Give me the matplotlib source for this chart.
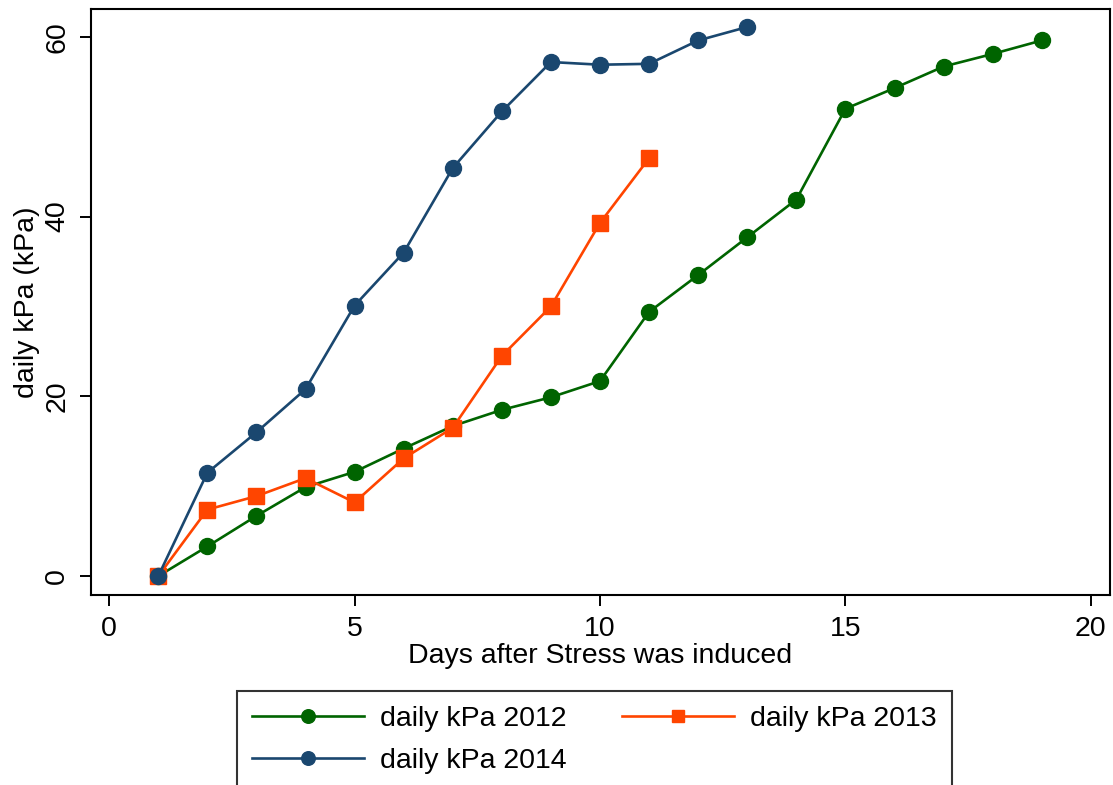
import matplotlib.pyplot as plt

plt.rcParams['font.family'] = ['Liberation Sans', 'DejaVu Sans']

# days after stress was induced
days_2012 = list(range(1, 20))
days_2013 = list(range(1, 12))
days_2014 = list(range(1, 14))

# daily kPa readings per year
kpa_2012 = [0, 3.3, 6.7, 9.9, 11.6, 14.2, 16.7, 18.5, 19.9, 21.7,
            29.4, 33.5, 37.7, 41.9, 52.0, 54.3, 56.7, 58.1, 59.6]
kpa_2013 = [0, 7.4, 8.9, 10.9, 8.2, 13.1, 16.5, 24.5, 30.0, 39.3, 46.5]
kpa_2014 = [0, 11.5, 16.0, 20.8, 30.1, 36.0, 45.4, 51.7, 57.2, 56.9,
            57.0, 59.6, 61.1]

x_ticks = [0, 5, 10, 15, 20]
y_ticks = [0, 20, 40, 60]

green = '#006400'
orange = '#ff4500'
navy = '#1a476f'
fs = 20.5

fig = plt.figure(figsize=(11.13, 7.85), dpi=100)
ax = fig.add_axes([91 / 1113, 1 - 595 / 785, (1110 - 91) / 1113, (595 - 9) / 785])

l12, = ax.plot(days_2012, kpa_2012, color=green, lw=1.9, marker='o', ms=11.5,
               label='daily kPa 2012')
l13, = ax.plot(days_2013, kpa_2013, color=orange, lw=1.9, marker='s', ms=11,
               label='daily kPa 2013')
l14, = ax.plot(days_2014, kpa_2014, color=navy, lw=1.9, marker='o', ms=11.5,
               label='daily kPa 2014')

ax.set_xlim(-0.37, 20.39)
ax.set_ylim(-2.1, 63.1)
ax.set_xticks(x_ticks)
ax.set_yticks(y_ticks)
ax.tick_params(axis='both', direction='out', length=8, width=1.4,
               labelsize=fs, pad=7)
for lab in ax.get_yticklabels():
    lab.set_rotation(90)
    lab.set_va('center')
for sp in ax.spines.values():
    sp.set_linewidth(1.5)

ax.set_xlabel('Days after Stress was induced', fontsize=fs, labelpad=1)
ax.set_ylabel('daily kPa (kPa)', fontsize=fs, labelpad=3)

# legend below the plot, filled row by row like Stata (matplotlib fills by column)
x0 = 237 / 1113
y0 = 1 - 691 / 785
leg = fig.legend([l12, l14, l13], [l12.get_label(), l14.get_label(), l13.get_label()],
                 loc='upper left', bbox_to_anchor=(x0, y0),
                 ncol=2, fontsize=fs, frameon=True, fancybox=False,
                 handlelength=3.93, handletextpad=0.56, borderpad=0.53,
                 labelspacing=0.55, columnspacing=1.96, borderaxespad=0,
                 markerscale=0.85)
leg.get_frame().set_edgecolor('black')
leg.get_frame().set_linewidth(1.5)

fig.savefig('out.png', dpi=100)
